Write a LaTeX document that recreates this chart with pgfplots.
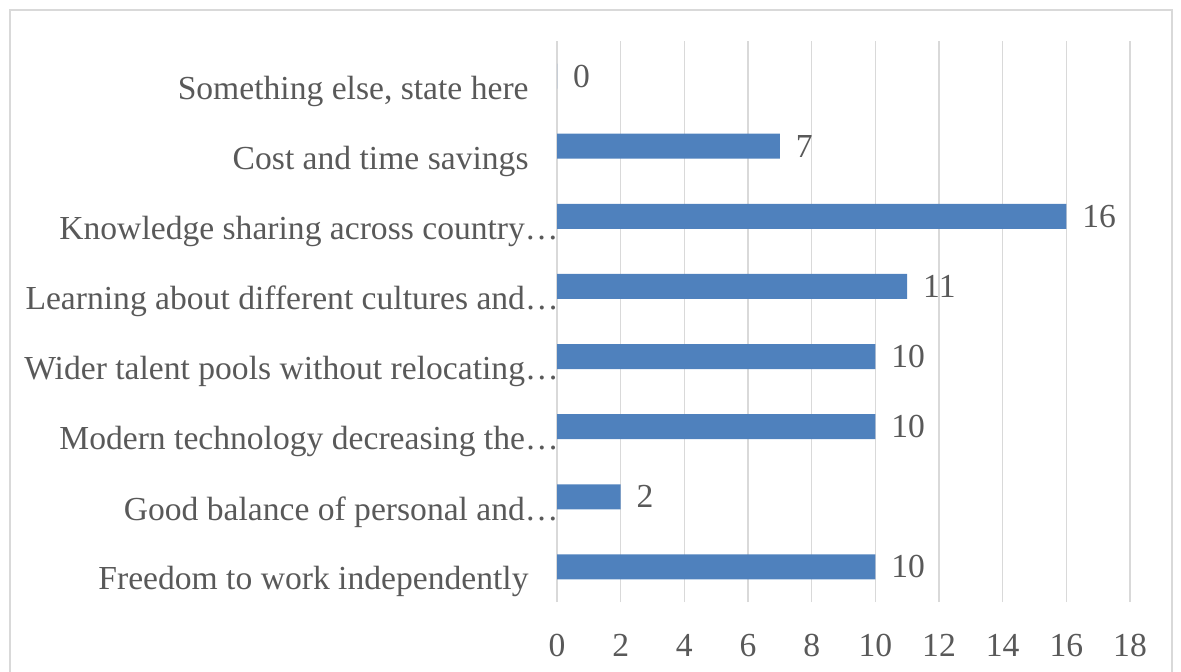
\documentclass[border=0pt]{standalone}
\usepackage{pgfplots}
\pgfplotsset{compat=1.18}
\usepackage{fontspec}
\setmainfont{Liberation Serif}
\definecolor{barblue}{HTML}{4F81BD}
\definecolor{gridgray}{HTML}{D9D9D9}
\definecolor{txtgray}{HTML}{595959}
\begin{document}
\begin{tikzpicture}
  % page = 1181 x 671 px at 0.5pt per px
  \useasboundingbox (0,0) rectangle (590.5pt,335.5pt);
  \begin{scope}
    \clip (0,0) rectangle (590.5pt,335.5pt);
    \draw[gridgray, line width=0.8pt] (5pt,-5pt) rectangle (586pt,330.5pt);
  \end{scope}
  \begin{axis}[
      at={(278.5pt,34.5pt)}, anchor=south west,
      scale only axis, width=286.5pt, height=280.5pt,
      xbar, bar width=12.5pt,
      xmin=0, xmax=18, ymin=-0.5, ymax=7.5,
      xtick={0,2,...,18}, ytick={0,...,7},
      yticklabels={
        {Freedom to work independently\hspace*{15pt}},
        {Good balance of personal and…},
        {Modern technology decreasing the…},
        {Wider talent pools without relocating…},
        {Learning about different cultures and…},
        {Knowledge sharing across country…},
        {Cost and time savings\hspace*{15pt}},
        {Something else, state here\hspace*{15pt}}},
      major tick length=0pt,
      axis line style={draw=none},
      xmajorgrids, grid style={gridgray, line width=0.75pt},
      /pgf/number format/assume math mode=true,
      ticklabel style={font=\fontsize{16.8}{19}\selectfont, text=txtgray},
      yticklabel style={anchor=east, inner sep=0pt, xshift=1pt, yshift=-7.5pt},
      xticklabel style={anchor=north, inner sep=0pt, yshift=-16pt},
      nodes near coords,
      every node near coord/.append style={font=\fontsize{16.8}{19}\selectfont,
        text=txtgray, anchor=west, xshift=4.5pt},
    ]
    \addplot[fill=barblue, draw=none] coordinates {
      (10,0) (2,1) (10,2) (10,3) (11,4) (16,5) (7,6) (0,7)};
  \end{axis}
\end{tikzpicture}
\end{document}
